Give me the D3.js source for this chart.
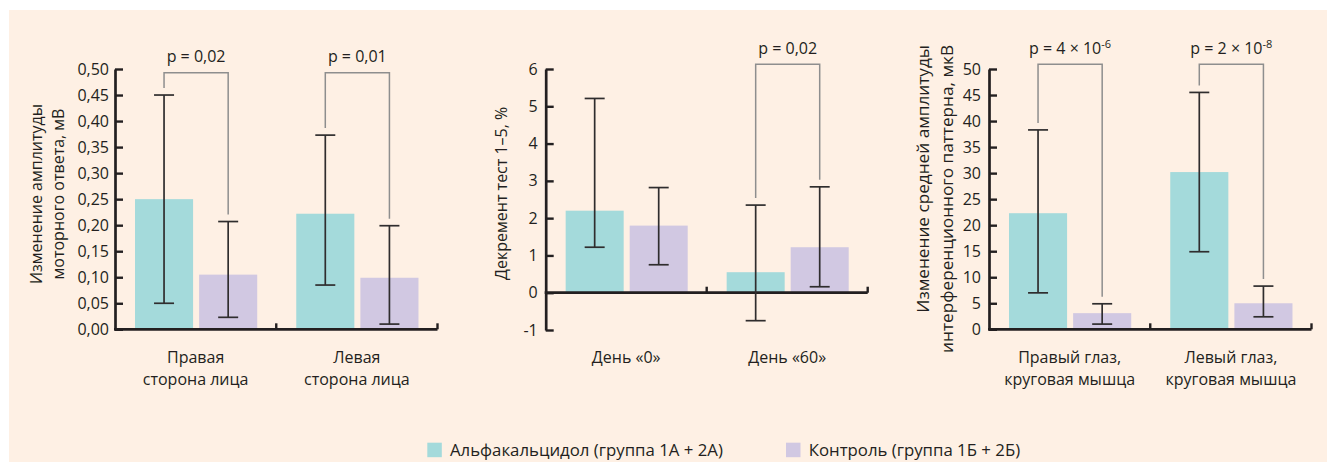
<!DOCTYPE html>
<html><head><meta charset="utf-8">
<script src="https://cdn.jsdelivr.net/npm/d3@7"></script>
<style>
body{margin:0;background:#fff}
svg text{font-family:"Open Sans",sans-serif;fill:#231f20}
</style>
</head><body>
<svg id="c" width="1327" height="462"></svg>
<script>
// ---------- DATA ----------
const seriesNames = ["Альфакальцидол (группа 1А + 2А)", "Контроль (группа 1Б + 2Б)"];
const seriesColors = ["#a4dadb", "#d1c8e2"];

// Panel 1 – амплитуда моторного ответа
const cats1 = [["Правая", "сторона лица"], ["Левая", "сторона лица"]];
const alfa1 = [0.25, 0.222];
const alfa1Lo = [0.05, 0.085];
const alfa1Hi = [0.45, 0.373];
const ctrl1 = [0.105, 0.099];
const ctrl1Lo = [0.023, 0.010];
const ctrl1Hi = [0.207, 0.199];
const ticks1 = [0, 0.05, 0.10, 0.15, 0.20, 0.25, 0.30, 0.35, 0.40, 0.45, 0.50];
const tickLabels1 = ["0,00","0,05","0,10","0,15","0,20","0,25","0,30","0,35","0,40","0,45","0,50"];
const pBase1 = ["p = 0,02", "p = 0,01"];
const pExp1 = ["", ""];
const yTitle1 = ["Изменение амплитуды", "моторного ответа, мВ"];

// Panel 2 – декремент
const cats2 = [["День «0»"], ["День «60»"]];
const alfa2 = [2.2, 0.55];
const alfa2Lo = [1.22, -0.75];
const alfa2Hi = [5.21, 2.35];
const ctrl2 = [1.8, 1.22];
const ctrl2Lo = [0.75, 0.16];
const ctrl2Hi = [2.82, 2.84];
const ticks2 = [-1, 0, 1, 2, 3, 4, 5, 6];
const tickLabels2 = ["-1","0","1","2","3","4","5","6"];
const pBase2 = [null, "p = 0,02"];
const pExp2 = [null, ""];
const yTitle2 = ["Декремент тест 1–5, %"];

// Panel 3 – амплитуда интерференционного паттерна
const cats3 = [["Правый глаз,", "круговая мышца"], ["Левый глаз,", "круговая мышца"]];
const alfa3 = [22.3, 30.2];
const alfa3Lo = [7.0, 14.9];
const alfa3Hi = [38.3, 45.5];
const ctrl3 = [3.1, 5.0];
const ctrl3Lo = [1.0, 2.4];
const ctrl3Hi = [4.9, 8.3];
const ticks3 = [0, 5, 10, 15, 20, 25, 30, 35, 40, 45, 50];
const tickLabels3 = ["0","5","10","15","20","25","30","35","40","45","50"];
const pBase3 = ["p = 4 × 10", "p = 2 × 10"];
const pExp3 = ["-6", "-8"];
const yTitle3 = ["Изменение средней амплитуды", "интерференционного паттерна, мкВ"];

// ---------- DRAW ----------
const svg = d3.select("#c");
const FS = 16;
svg.append("rect").attr("x", 9).attr("y", 10).attr("width", 1318).attr("height", 452).attr("fill", "#fef0e4");

function panel(o) {
  const g = svg.append("g");
  const n = o.cats.length;
  const x0 = d3.scaleBand().domain(d3.range(n)).range([o.xL, o.xR]);
  const bw = x0.bandwidth();
  const x1 = d3.scaleBand().domain([0, 1]).range([bw * 0.124, bw * 0.882]).paddingInner(0.094);
  const y = d3.scaleLinear().domain(o.domain).range([o.yB, o.yT]);
  const vals = [o.s[0], o.s[1]];
  const cx = (i, s) => x0(i) + x1(s) + x1.bandwidth() / 2;

  // bars
  for (let s = 0; s < 2; s++) {
    g.append("g").selectAll("rect").data(vals[s].v).join("rect")
      .attr("x", (d, i) => x0(i) + x1(s))
      .attr("width", x1.bandwidth())
      .attr("y", d => Math.min(y(d), y(0)))
      .attr("height", d => Math.abs(y(d) - y(0)))
      .attr("fill", seriesColors[s]);
  }

  // y axis
  const ya = g.append("g").attr("transform", `translate(${o.xL},0)`)
    .call(d3.axisLeft(y).tickValues(o.ticks).tickFormat((d, i) => o.tickLabels[i])
      .tickSizeInner(-8).tickSizeOuter(0).tickPadding(o.tickPad));
  ya.attr("font-family", null).attr("font-size", null);
  ya.select(".domain").attr("stroke", "#231f20").attr("stroke-width", 2.7);
  ya.selectAll(".tick line").attr("stroke", "#231f20").attr("stroke-width", 2.4);
  ya.selectAll(".tick text").attr("font-size", FS).attr("fill", "#231f20");

  // x baseline with group ticks
  g.append("line").attr("x1", o.xL - 1).attr("x2", o.xR).attr("y1", y(0)).attr("y2", y(0))
    .attr("stroke", "#231f20").attr("stroke-width", 2.8);
  g.append("g").selectAll("line").data(d3.range(n)).join("line")
    .attr("x1", i => x0(i) + bw).attr("x2", i => x0(i) + bw)
    .attr("y1", y(0)).attr("y2", y(0) - 6)
    .attr("stroke", "#231f20").attr("stroke-width", 2.4);

  // error bars
  for (let s = 0; s < 2; s++) {
    const eg = g.append("g").attr("stroke", "#2f2d2e").attr("stroke-width", 1.7);
    vals[s].v.forEach((d, i) => {
      const x = cx(i, s);
      const lo = y(vals[s].lo[i]), hi = y(vals[s].hi[i]);
      eg.append("line").attr("x1", x).attr("x2", x).attr("y1", lo).attr("y2", hi);
      eg.append("line").attr("x1", x - 10).attr("x2", x + 10).attr("y1", hi).attr("y2", hi);
      eg.append("line").attr("x1", x - 10).attr("x2", x + 10).attr("y1", lo).attr("y2", lo);
    });
  }

  // significance brackets
  o.pBase.forEach((p, i) => {
    if (p == null) return;
    const xa = cx(i, 0), xb = cx(i, 1);
    const ya0 = y(vals[0].hi[i]) - 7, yb0 = y(vals[1].hi[i]) - 7;
    g.append("path").attr("d", `M${xa},${ya0}V${o.brY}H${xb}V${yb0}`)
      .attr("fill", "none").attr("stroke", "#8e8e8e").attr("stroke-width", 1.5);
    const t = g.append("text").attr("x", (xa + xb) / 2).attr("y", o.pY)
      .attr("text-anchor", "middle").attr("font-size", FS);
    t.append("tspan").text(p);
    if (o.pExp[i]) t.append("tspan").attr("dy", -6).attr("font-size", 11).text(o.pExp[i]);
  });

  // category labels
  o.cats.forEach((lines, i) => {
    const t = g.append("text").attr("text-anchor", "middle").attr("font-size", FS);
    lines.forEach((l, k) => t.append("tspan").attr("x", x0(i) + bw * 0.5).attr("y", 363 + k * 22).text(l));
  });

  // y title
  o.yTitle.forEach((l, k) => {
    g.append("text").attr("transform", `translate(${o.tX[k]},${o.tY}) rotate(-90)`)
      .attr("text-anchor", o.tAnchor).attr("dy", "0.35em").attr("font-size", o.tFS).text(l);
  });
}

panel({cats: cats1, s: [{v: alfa1, lo: alfa1Lo, hi: alfa1Hi}, {v: ctrl1, lo: ctrl1Lo, hi: ctrl1Hi}],
  domain: [0, 0.5], ticks: ticks1, tickLabels: tickLabels1, pBase: pBase1, pExp: pExp1, yTitle: yTitle1,
  xL: 115, xR: 437.5, yB: 329.3, yT: 69, tickPad: 6, brY: 72.7, pY: 61.7,
  tX: [36.7, 58], tY: 194, tAnchor: "middle", tFS: 16});

panel({cats: cats2, s: [{v: alfa2, lo: alfa2Lo, hi: alfa2Hi}, {v: ctrl2, lo: ctrl2Lo, hi: ctrl2Hi}],
  domain: [-1, 6], ticks: ticks2, tickLabels: tickLabels2, pBase: pBase2, pExp: pExp2, yTitle: yTitle2,
  xL: 545.7, xR: 867.7, yB: 330, yT: 69, tickPad: 8, brY: 64.3, pY: 54,
  tX: [501.7], tY: 193.3, tAnchor: "middle", tFS: 16});

panel({cats: cats3, s: [{v: alfa3, lo: alfa3Lo, hi: alfa3Hi}, {v: ctrl3, lo: ctrl3Lo, hi: ctrl3Hi}],
  domain: [0, 50], ticks: ticks3, tickLabels: tickLabels3, pBase: pBase3, pExp: pExp3, yTitle: yTitle3,
  xL: 989, xR: 1311.5, yB: 329.3, yT: 69, tickPad: 8, brY: 64.3, pY: 54,
  tX: [923.3, 946.7], tY: 45, tAnchor: "end", tFS: 17.2});

// legend
const legX = [427.3, 786];
const lg = svg.append("g");
seriesNames.forEach((name, s) => {
  lg.append("rect").attr("x", legX[s]).attr("y", 442.7).attr("width", 14.5).attr("height", 14.5).attr("fill", seriesColors[s]);
  lg.append("text").attr("x", legX[s] + 22.7).attr("y", 455.5).attr("font-size", 16.8).text(name);
});
</script>
</body></html>
